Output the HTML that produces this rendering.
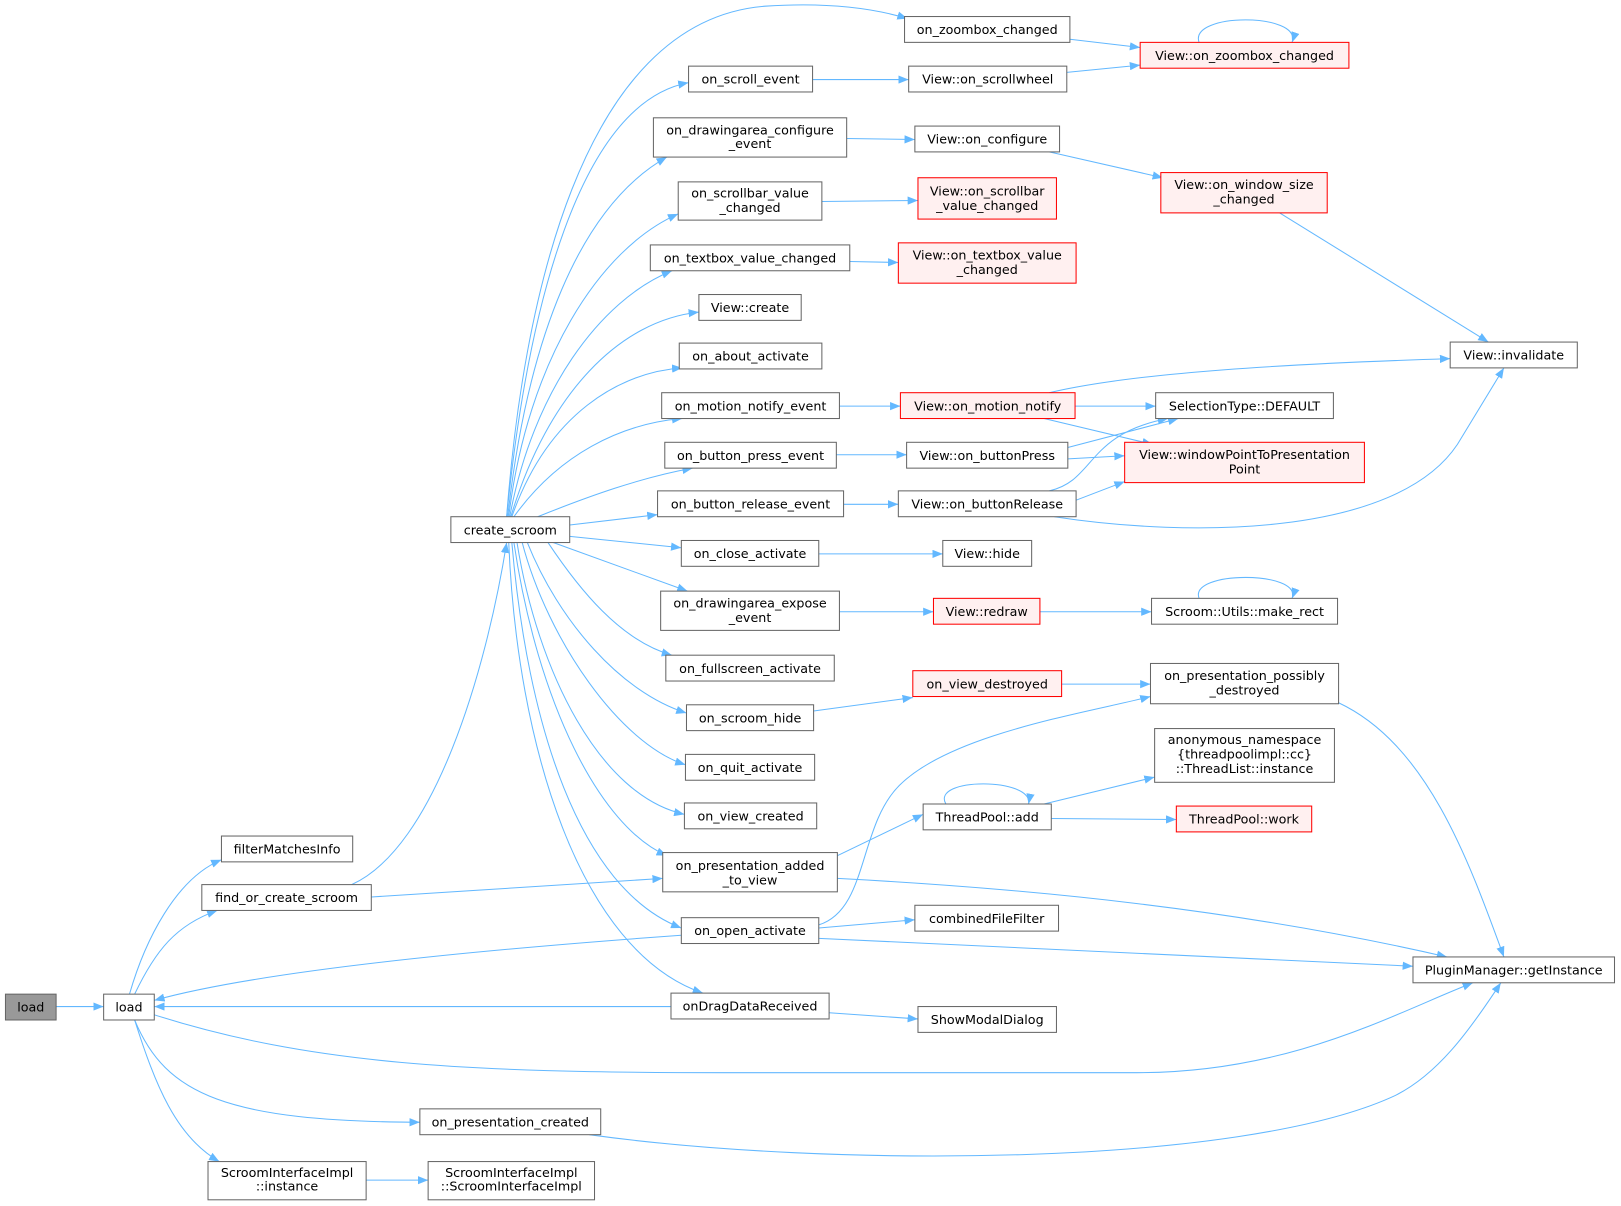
<!DOCTYPE html>
<html><head><meta charset="utf-8"><style>
html,body{margin:0;padding:0;background:#fff}
svg{display:block}
text{font-family:"DejaVu Sans","Liberation Sans",sans-serif;font-size:12.3px;fill:#000;text-anchor:middle}
.n{fill:#fff;stroke:#666;stroke-width:1}
.r{fill:#fff0f0;stroke:#f00;stroke-width:1}
.g{fill:#999;stroke:#666;stroke-width:1}
.e{fill:none;stroke:#63b8ff;stroke-width:1}
</style></head><body>
<svg width="1621" height="1206" viewBox="0 0 1568 1167" xmlns="http://www.w3.org/2000/svg">
<defs><marker id="a" markerWidth="10" markerHeight="8" refX="10" refY="4" orient="auto" markerUnits="userSpaceOnUse"><path d="M0,0 L10,4 L0,8 Z" fill="#63b8ff"/></marker></defs>
<g class="e" marker-end="url(#a)">
<path d="M54,974 L100,974"/>
<path d="M125,962 C140,910 170,850 214,832"/>
<path d="M130,962 C150,920 170,895 210,881"/>
<path d="M130,987 C160,1060 220,1085 406,1086"/>
<path d="M130,987 C150,1050 170,1100 212,1124"/>
<path d="M149,982 C300,1030 450,1038 700,1038 L1100,1038 C1250,1038 1350,980 1425,951"/>
<path d="M340,856 C420,820 470,650 490,525"/>
<path d="M359,868 L641,850"/>
<path d="M354,1142 L414,1142"/>
<path d="M570,1098 C800,1130 1200,1130 1350,1060 C1390,1040 1420,1000 1452,951"/>
<path d="M659,905 C450,920 250,940 149,968"/>
<path d="M649,974 L149,974"/>
<path d="M792,895 C840,880 830,800 870,760 C920,710 1050,690 1113,674"/>
<path d="M792,898 L885,890"/>
<path d="M792,908 L1367,935"/>
<path d="M810,828 L893,788"/>
<path d="M810,850 C1000,860 1200,880 1400,926"/>
<path d="M802,980 L888,986"/>
<path d="M915,778 C900,752 1000,752 995,778"/>
<path d="M1010,778 L1117,752"/>
<path d="M1017,792 L1138,793"/>
<path d="M787,688 L883,675"/>
<path d="M1027,662 L1113,662"/>
<path d="M1295,680 C1380,720 1420,830 1455,926"/>
<path d="M812,592 L903,592"/>
<path d="M1006,592 L1114,592"/>
<path d="M1160,579 C1150,552 1260,552 1250,579"/>
<path d="M792,536 L912,536"/>
<path d="M816,488 L869,488"/>
<path d="M1015,475 C1060,465 1050,420 1130,405"/>
<path d="M1041,484 L1088,466"/>
<path d="M1020,500 C1150,520 1350,520 1410,430 L1455,356"/>
<path d="M809,440 L877,440"/>
<path d="M1033,433 L1140,405"/>
<path d="M1033,444 L1088,441"/>
<path d="M812,393 L871,393"/>
<path d="M1015,380 C1100,360 1250,352 1403,347"/>
<path d="M1040,393 L1118,393"/>
<path d="M1010,405 L1115,430"/>
<path d="M822,253 L869,254"/>
<path d="M795,195 L888,194"/>
<path d="M819,134 L885,135"/>
<path d="M1015,147 L1125,172"/>
<path d="M1238,206 L1440,331"/>
<path d="M786,77 L879,77"/>
<path d="M1032,70 L1103,63"/>
<path d="M1035,38 L1103,46"/>
<path d="M1160,41 C1150,12 1260,12 1250,41"/>
<path d="M490,500 C505,300 560,20 740,6 C800,2 845,8 878,18"/>
<path d="M490,500 C510,300 560,100 666,80"/>
<path d="M491,500 C510,330 560,200 645,152"/>
<path d="M492,500 C510,350 580,240 656,207"/>
<path d="M493,500 C515,380 580,290 650,262"/>
<path d="M494,500 C530,380 600,310 676,302"/>
<path d="M495,500 C530,400 600,360 660,356"/>
<path d="M497,500 C540,440 600,410 660,405"/>
<path d="M520,500 C570,480 620,462 670,453"/>
<path d="M551,508 L636,498"/>
<path d="M551,519 L659,530"/>
<path d="M535,525 L665,572"/>
<path d="M530,525 C560,570 600,620 650,634"/>
<path d="M510,525 C540,600 600,670 664,690"/>
<path d="M505,525 C530,620 600,720 663,740"/>
<path d="M500,525 C520,650 580,770 662,788"/>
<path d="M497,525 C520,680 580,800 645,828"/>
<path d="M495,525 C510,700 560,860 659,898"/>
<path d="M492,525 C500,720 560,920 680,961"/>
</g>
<rect class="g" x="5" y="962" width="49" height="25"/><text x="29.5" y="979">load</text>
<rect class="n" x="100" y="962" width="49" height="25"/><text x="124.5" y="979">load</text>
<rect class="n" x="214" y="809" width="127" height="25"/><text x="277.5" y="826">filterMatchesInfo</text>
<rect class="n" x="195" y="856" width="164" height="25"/><text x="277" y="873">find_or_create_scroom</text>
<rect class="n" x="406" y="1073" width="175" height="25"/><text x="493.5" y="1090">on_presentation_created</text>
<rect class="n" x="201" y="1124" width="153" height="37"/><text x="277.5" y="1139">ScroomInterfaceImpl</text><text x="277.5" y="1152">::instance</text>
<rect class="n" x="414" y="1124" width="161" height="37"/><text x="494.5" y="1139">ScroomInterfaceImpl</text><text x="494.5" y="1152">::ScroomInterfaceImpl</text>
<rect class="n" x="436" y="500" width="115" height="25"/><text x="493.5" y="517">create_scroom</text>
<rect class="n" x="875" y="16" width="160" height="25"/><text x="955" y="33">on_zoombox_changed</text>
<rect class="n" x="666" y="64" width="120" height="25"/><text x="726" y="81">on_scroll_event</text>
<rect class="n" x="632" y="114" width="187" height="38"/><text x="725.5" y="130">on_drawingarea_configure</text><text x="725.5" y="143">_event</text>
<rect class="n" x="656" y="176" width="139" height="37"/><text x="725.5" y="191">on_scrollbar_value</text><text x="725.5" y="205">_changed</text>
<rect class="n" x="629" y="237" width="193" height="25"/><text x="725.5" y="254">on_textbox_value_changed</text>
<rect class="n" x="676" y="285" width="99" height="25"/><text x="725.5" y="302">View::create</text>
<rect class="n" x="657" y="332" width="138" height="25"/><text x="726" y="349">on_about_activate</text>
<rect class="n" x="640" y="380" width="172" height="25"/><text x="726" y="397">on_motion_notify_event</text>
<rect class="n" x="643" y="428" width="166" height="25"/><text x="726" y="445">on_button_press_event</text>
<rect class="n" x="636" y="475" width="180" height="25"/><text x="726" y="492">on_button_release_event</text>
<rect class="n" x="659" y="523" width="133" height="25"/><text x="725.5" y="540">on_close_activate</text>
<rect class="n" x="639" y="572" width="173" height="38"/><text x="725.5" y="588">on_drawingarea_expose</text><text x="725.5" y="602">_event</text>
<rect class="n" x="644" y="634" width="163" height="25"/><text x="725.5" y="651">on_fullscreen_activate</text>
<rect class="n" x="664" y="682" width="123" height="25"/><text x="725.5" y="699">on_scroom_hide</text>
<rect class="n" x="663" y="730" width="125" height="25"/><text x="725.5" y="747">on_quit_activate</text>
<rect class="n" x="662" y="777" width="128" height="25"/><text x="726" y="794">on_view_created</text>
<rect class="n" x="641" y="825" width="169" height="38"/><text x="725.5" y="842">on_presentation_added</text><text x="725.5" y="856">_to_view</text>
<rect class="n" x="659" y="888" width="133" height="25"/><text x="725.5" y="905">on_open_activate</text>
<rect class="n" x="649" y="961" width="153" height="25"/><text x="725.5" y="978">onDragDataReceived</text>
<rect class="n" x="879" y="64" width="153" height="25"/><text x="955.5" y="81">View::on_scrollwheel</text>
<rect class="n" x="885" y="122" width="140" height="25"/><text x="955" y="139">View::on_configure</text>
<rect class="r" x="888" y="172" width="134" height="40"/><text x="955" y="189">View::on_scrollbar</text><text x="955" y="203">_value_changed</text>
<rect class="r" x="869" y="235" width="172" height="39"/><text x="955" y="251">View::on_textbox_value</text><text x="955" y="265">_changed</text>
<rect class="r" x="871" y="380" width="169" height="25"/><text x="955.5" y="397">View::on_motion_notify</text>
<rect class="n" x="877" y="428" width="156" height="25"/><text x="955" y="445">View::on_buttonPress</text>
<rect class="n" x="869" y="475" width="172" height="25"/><text x="955" y="492">View::on_buttonRelease</text>
<rect class="n" x="912" y="523" width="86" height="25"/><text x="955" y="540">View::hide</text>
<rect class="r" x="903" y="579" width="103" height="25"/><text x="954.5" y="596">View::redraw</text>
<rect class="r" x="883" y="649" width="144" height="25"/><text x="955" y="666">on_view_destroyed</text>
<rect class="n" x="893" y="778" width="124" height="25"/><text x="955" y="795">ThreadPool::add</text>
<rect class="n" x="885" y="876" width="139" height="25"/><text x="954.5" y="893">combinedFileFilter</text>
<rect class="n" x="888" y="974" width="134" height="25"/><text x="955" y="991">ShowModalDialog</text>
<rect class="r" x="1103" y="41" width="202" height="25"/><text x="1204" y="58">View::on_zoombox_changed</text>
<rect class="r" x="1123" y="167" width="161" height="39"/><text x="1203.5" y="183">View::on_window_size</text><text x="1203.5" y="197">_changed</text>
<rect class="n" x="1403" y="331" width="123" height="25"/><text x="1464.5" y="348">View::invalidate</text>
<rect class="n" x="1118" y="380" width="172" height="25"/><text x="1204" y="397">SelectionType::DEFAULT</text>
<rect class="r" x="1088" y="428" width="232" height="39"/><text x="1204" y="444">View::windowPointToPresentation</text><text x="1204" y="458">Point</text>
<rect class="n" x="1114" y="579" width="180" height="25"/><text x="1204" y="596">Scroom::Utils::make_rect</text>
<rect class="n" x="1113" y="642" width="182" height="39"/><text x="1204" y="658">on_presentation_possibly</text><text x="1204" y="672">_destroyed</text>
<rect class="n" x="1117" y="705" width="174" height="52"/><text x="1204" y="720">anonymous_namespace</text><text x="1204" y="734">{threadpoolimpl::cc}</text><text x="1204" y="748">::ThreadList::instance</text>
<rect class="r" x="1138" y="780" width="131" height="25"/><text x="1203.5" y="797">ThreadPool::work</text>
<rect class="n" x="1367" y="926" width="195" height="25"/><text x="1464.5" y="943">PluginManager::getInstance</text>
</svg>
</body></html>
